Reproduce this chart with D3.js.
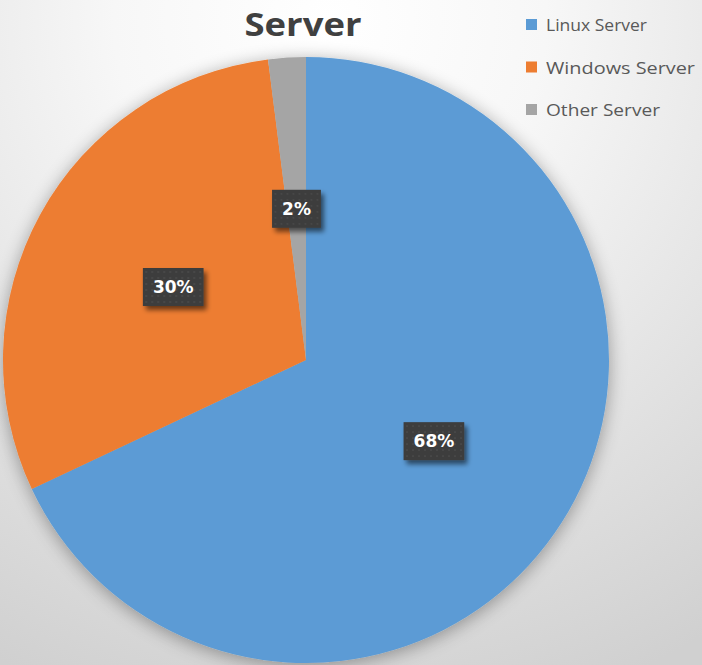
<!DOCTYPE html>
<html><head><meta charset="utf-8">
<script src="https://cdn.jsdelivr.net/npm/d3@7"></script>
<style>html,body{margin:0;padding:0;overflow:hidden;background:#fff}</style>
</head><body>
<svg id="chart" width="702" height="665"></svg>
<script>
const categories = ["Linux Server", "Windows Server", "Other Server"];
const values = [68, 30, 2];
const labels = ["68%", "30%", "2%"];
const colors = ["#5b9bd5", "#ed7d31", "#a5a5a5"];
const title = "Server";

const W = 702, H = 665;
const cx = 306, cy = 360, R = 303;
const svg = d3.select("#chart");
const defs = svg.append("defs");

const bg = defs.append("radialGradient").attr("id","bg")
  .attr("gradientUnits","userSpaceOnUse").attr("cx",330).attr("cy",20).attr("r",720);
bg.append("stop").attr("offset","0%").attr("stop-color","#ffffff");
bg.append("stop").attr("offset","30%").attr("stop-color","#f7f7f7");
bg.append("stop").attr("offset","100%").attr("stop-color","#d0d0d0");
svg.append("rect").attr("width",W).attr("height",H).attr("fill","url(#bg)");

const sh = defs.append("filter").attr("id","pieShadow").attr("x","-20%").attr("y","-20%").attr("width","140%").attr("height","140%");
sh.append("feGaussianBlur").attr("in","SourceAlpha").attr("stdDeviation",9).attr("result","b");
sh.append("feOffset").attr("in","b").attr("dx",0).attr("dy",3).attr("result","o");
sh.append("feComponentTransfer").attr("in","o").attr("result","o2")
  .append("feFuncA").attr("type","linear").attr("slope",0.35);
const m = sh.append("feMerge");
m.append("feMergeNode").attr("in","o2");
m.append("feMergeNode").attr("in","SourceGraphic");

const lsh = defs.append("filter").attr("id","lblShadow").attr("x","-30%").attr("y","-30%").attr("width","170%").attr("height","170%");
lsh.append("feGaussianBlur").attr("in","SourceAlpha").attr("stdDeviation",2.5).attr("result","b");
lsh.append("feOffset").attr("in","b").attr("dx",3).attr("dy",4).attr("result","o");
lsh.append("feComponentTransfer").attr("in","o").attr("result","o2")
  .append("feFuncA").attr("type","linear").attr("slope",0.55);
const m2 = lsh.append("feMerge");
m2.append("feMergeNode").attr("in","o2");
m2.append("feMergeNode").attr("in","SourceGraphic");

const pat = defs.append("pattern").attr("id","dots").attr("patternUnits","userSpaceOnUse")
  .attr("width",6).attr("height",6);
pat.append("rect").attr("width",6).attr("height",6).attr("fill","#3c3c3c");
pat.append("circle").attr("cx",3).attr("cy",3).attr("r",0.8).attr("fill","#555");

const pie = d3.pie().sort(null).value(d => d)(values);
const arc = d3.arc().innerRadius(0).outerRadius(R);
const labelArc = d3.arc().innerRadius(R*0.5).outerRadius(R*0.5);

const g = svg.append("g").attr("transform",`translate(${cx},${cy})`);
g.append("g").attr("filter","url(#pieShadow)")
  .selectAll("path").data(pie).join("path")
  .attr("d", arc).attr("fill", (d,i) => colors[i]);

const lg = g.selectAll("g.lbl").data(pie).join("g").attr("class","lbl")
  .attr("transform", d => `translate(${labelArc.centroid(d)})`);
lg.each(function(d,i){
  const s = d3.select(this);
  const t = s.append("text").text(labels[i])
    .attr("text-anchor","middle").attr("dy","0.36em")
    .attr("font-family","DejaVu Sans").attr("font-weight","bold").attr("font-size",17)
    .attr("fill","#ffffff");
  const bb = t.node().getBBox();
  const pw = 10;
  s.insert("rect","text")
    .attr("x", bb.x - pw).attr("y", -19)
    .attr("width", bb.width + 2*pw).attr("height", 38)
    .attr("fill","url(#dots)").attr("filter","url(#lblShadow)");
});

svg.append("text").text(title).attr("x",303).attr("y",36)
  .attr("text-anchor","middle").attr("font-family","Open Sans").attr("font-weight","bold")
  .attr("font-size",33).attr("fill","#404040")
  .attr("textLength",117).attr("lengthAdjust","spacingAndGlyphs");

const legend = svg.append("g").selectAll("g").data(categories).join("g")
  .attr("transform",(d,i)=>`translate(526,${19 + i*42.5})`);
legend.append("rect").attr("width",11).attr("height",11).attr("fill",(d,i)=>colors[i]);
const lw = [101, 149, 114];
legend.append("text").text(d=>d).attr("x",20).attr("y",12)
  .attr("font-family","Open Sans").attr("font-size",17).attr("fill","#595959")
  .attr("textLength",(d,i)=>lw[i]).attr("lengthAdjust","spacingAndGlyphs");
</script>
</body></html>
